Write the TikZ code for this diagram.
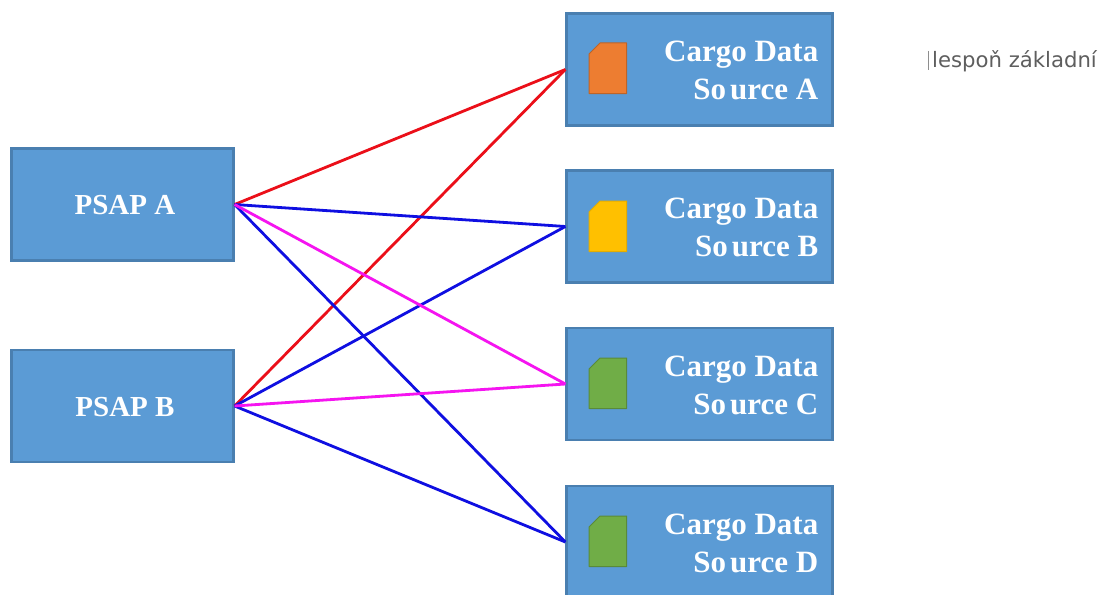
\documentclass[tikz,border=0pt]{standalone}
\usepackage{fontspec}
\setmainfont{Liberation Serif}
\newfontfamily\notefont{DejaVu Sans}
\definecolor{boxfill}{HTML}{5B9BD5}
\definecolor{boxline}{HTML}{4A7FB0}
\definecolor{simorange}{HTML}{ED7D31}
\definecolor{simyellow}{HTML}{FFC000}
\definecolor{simgreen}{HTML}{70AD47}
\definecolor{notegray}{HTML}{5E5E5E}
\tikzset{
  x=1pt,y=-1pt,
  block/.style={draw=boxline,line width=2.2pt,fill=boxfill,inner sep=0pt,rectangle},
  psapbox/.style={block,minimum width=222pt,minimum height=112pt},
  srcbox/.style={block,minimum width=266pt,minimum height=112pt},
  label/.style={text=white,font=\bfseries\fontsize{29}{37.5}\selectfont,inner sep=0pt,align=right},
  srclabel/.style={label,anchor=east,font=\bfseries\fontsize{31}{37.5}\selectfont},
  sim/.style={line width=1pt,line join=round},
  link/.style={line width=2.8pt},
  redlink/.style={link,draw={rgb,255:red,235;green,15;blue,25}},
  bluelink/.style={link,draw={rgb,255:red,15;green,15;blue,225}},
  pinklink/.style={link,draw={rgb,255:red,245;green,20;blue,240}},
}
\newcommand{\simcard}[3]{% top y, fill, line
  \path[sim,fill=#2,draw=#3] (589,#1+50.5) -- (589,#1+11) -- (600,#1) -- (626.5,#1) -- (626.5,#1+50.5) -- cycle;
}
\newcommand{\srcword}[1]{So\kern4pt urce #1}
\begin{document}
\begin{tikzpicture}
\clip (0,0) rectangle (1099,594);
\useasboundingbox (0,0) rectangle (1099,594);
\fill[white] (0,0) rectangle (1099,594);
\node[psapbox] (pa) at (122.5,204.5) {};
\node[psapbox] (pb) at (122.5,406) {};
\node[srcbox] (sa) at (699.5,69.5) {};
\node[srcbox] (sb) at (699.5,226.5) {};
\node[srcbox] (sc) at (699.5,384) {};
\node[srcbox] (sd) at (699.5,542) {};
\node[label] (ta) at (125,205) {PSAP A};
\node[label] (tb) at (125,407) {PSAP B};
\node[srclabel] (la) at (818.5,70.5) {Cargo Data\\\srcword{A}};
\node[srclabel] (lb) at (818.5,227.5) {Cargo Data\\\srcword{B}};
\node[srclabel] (lc) at (818.5,385.5) {Cargo Data\\\srcword{C}};
\node[srclabel] (ld) at (818.5,543.5) {Cargo Data\\\srcword{D}};
\simcard{43}{simorange}{simorange!80!black}
\simcard{201}{simyellow}{simyellow!90!black}
\simcard{358}{simgreen}{simgreen!80!black}
\simcard{516}{simgreen}{simgreen!80!black}
\draw[redlink] (pa.east) -- (sa.west);
\draw[redlink] (pb.east) -- (sa.west);
\draw[bluelink] (pa.east) -- (sb.west);
\draw[bluelink] (pb.east) -- (sb.west);
\draw[bluelink] (pa.east) -- (sd.west);
\draw[bluelink] (pb.east) -- (sd.west);
\draw[pinklink] (pa.east) -- (sc.west);
\draw[pinklink] (pb.east) -- (sc.west);
\node[anchor=west,inner sep=0pt,text=notegray,font=\notefont\fontsize{21.2}{25}\selectfont] (note) at (932,61) {lespoň základní};
\draw[notegray!70,line width=1pt] (928,51) -- (928,70);
\end{tikzpicture}
\end{document}
